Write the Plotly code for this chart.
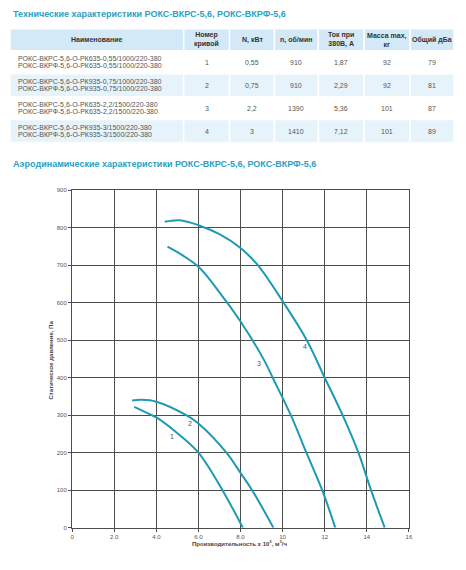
import plotly.graph_objects as go

# table data
names_vkrs = [
    "РОКС-ВКРС-5,6-О-РК635-0,55/1000/220-380",
    "РОКС-ВКРС-5,6-О-РК935-0,75/1000/220-380",
    "РОКС-ВКРС-5,6-О-РК635-2,2/1500/220-380",
    "РОКС-ВКРС-5,6-О-РК935-3/1500/220-380",
]
names_vkrf = [
    "РОКС-ВКРФ-5,6-О-РК635-0,55/1000/220-380",
    "РОКС-ВКРФ-5,6-О-РК935-0,75/1000/220-380",
    "РОКС-ВКРФ-5,6-О-РК635-2,2/1500/220-380",
    "РОКС-ВКРФ-5,6-О-РК935-3/1500/220-380",
]
curve_no = ["1", "2", "3", "4"]
power_kw = ["0,55", "0,75", "2,2", "3"]
rpm = ["910", "910", "1390", "1410"]
current_a = ["1,87", "2,29", "5,36", "7,12"]
mass_kg = ["92", "92", "101", "101"]
noise_dba = ["79", "81", "87", "89"]
headers = ["Наименование", "Номер<br>кривой", "N, кВт", "n, об/мин",
           "Ток при<br>380В, А", "Масса max,<br>кг", "Общий дБа"]

# curve data: flow x 10^3 m3/h, static pressure Pa
q1 = [2.95, 3.78, 4.0, 5.0, 6.0, 7.14, 8.11]
p1 = [322, 300, 294, 252, 200, 100, 0]
q2 = [2.85, 3.3, 4.0, 5.42, 6.0, 7.33, 8.0, 8.55, 9.56]
p2 = [339, 341, 336, 300, 278, 200, 146, 100, 0]
q3 = [4.53, 5.0, 6.0, 7.0, 8.0, 9.1, 9.53, 10.39, 11.13, 11.88, 12.5]
p3 = [750, 735, 696, 628, 550, 449, 400, 300, 200, 100, 0]
q4 = [4.4, 5.1, 6.0, 7.0, 8.0, 8.83, 10.05, 11.15, 12.0, 12.85, 13.6, 14.2, 14.85]
p4 = [816, 820, 807, 783, 746, 700, 600, 500, 400, 300, 200, 100, 0]

label_q = [4.72, 5.58, 8.9, 11.08]
label_p = [243, 278, 438, 482]

xticks = [0, 2, 4, 6, 8, 10, 12, 14, 16]
xtick_text = ["0", "2.0", "4.0", "6.0", "8.0", "10", "12", "14", "16"]

# the page body has an 8px margin; keep the figure inside the window
OFF = 8
W, H = 466 - 2 * OFF, 570 - 2 * OFF


def px(x):
    return (x - OFF) / W


def py(y):
    return 1 - (y - OFF) / H


teal = "#2a9fc6"
line_col = "#1e9ab5"
grid_col = "#4d4d4d"
font_fam = "Liberation Sans, Arial"

col_widths = [178, 47, 46, 45, 47, 47, 45]
row_heights = [22, 23, 23, 23, 23]
row_fills = ["#d3e9f7", "#ffffff", "#e7f3fb", "#ffffff", "#e7f3fb"]

col_edges = [0]
for w in col_widths:
    col_edges.append(col_edges[-1] + w)
row_edges = [0]
for h in row_heights:
    row_edges.append(row_edges[-1] + h)

fig = go.Figure()

for q, p in [(q1, p1), (q2, p2), (q3, p3), (q4, p4)]:
    fig.add_trace(go.Scatter(x=q, y=p, mode="lines",
                             line=dict(color=line_col, width=2, shape="spline", smoothing=1.0),
                             showlegend=False, hoverinfo="skip"))

for i in range(4):
    fig.add_annotation(x=label_q[i], y=label_p[i], text=curve_no[i], showarrow=False,
                       font=dict(size=7, color="#555555"))

# table cells
for r in range(len(row_heights)):
    for c in range(len(col_widths)):
        fig.add_shape(type="rect", xref="x2", yref="y2",
                      x0=col_edges[c], x1=col_edges[c + 1],
                      y0=row_edges[r], y1=row_edges[r + 1],
                      fillcolor=row_fills[r], line=dict(color="white", width=1.5),
                      layer="below")

for c, h in enumerate(headers):
    fig.add_annotation(xref="x2", yref="y2", x=(col_edges[c] + col_edges[c + 1]) / 2,
                       y=(row_edges[0] + row_edges[1]) / 2, text="<b>%s</b>" % h,
                       showarrow=False, font=dict(size=7, color="#333333"))

columns = [curve_no, power_kw, rpm, current_a, mass_kg, noise_dba]
for r in range(4):
    yc = (row_edges[r + 1] + row_edges[r + 2]) / 2
    fig.add_annotation(xref="x2", yref="y2", x=col_edges[0] + 6, y=yc, yshift=3.5,
                       text=names_vkrs[r], xanchor="left", yanchor="middle", showarrow=False,
                       font=dict(size=7, color="#555555"))
    fig.add_annotation(xref="x2", yref="y2", x=col_edges[0] + 6, y=yc, yshift=-3.5,
                       text=names_vkrf[r], xanchor="left", yanchor="middle", showarrow=False,
                       font=dict(size=7, color="#555555"))
    for c, col in enumerate(columns):
        fig.add_annotation(xref="x2", yref="y2", x=(col_edges[c + 1] + col_edges[c + 2]) / 2,
                           y=yc, text=col[r], showarrow=False,
                           font=dict(size=7, color="#555555"))

fig.add_annotation(xref="paper", yref="paper", x=px(9), y=py(11), xanchor="left",
                   yanchor="middle", showarrow=False,
                   text="<b>Технические характеристики РОКС-ВКРС-5,6, РОКС-ВКРФ-5,6</b>",
                   font=dict(size=9, color=teal))
fig.add_annotation(xref="paper", yref="paper", x=px(9), y=py(163), xanchor="left",
                   yanchor="middle", showarrow=False,
                   text="<b>Аэродинамические характеристики РОКС-ВКРС-5,6, РОКС-ВКРФ-5,6</b>",
                   font=dict(size=9, color=teal))
fig.add_annotation(xref="paper", yref="paper", x=px(50), y=py(361), textangle=-90,
                   xanchor="center", yanchor="middle",
                   showarrow=False, text="<b>Статическое давление, Па</b>",
                   font=dict(size=6, color="#444444"))
fig.add_annotation(xref="paper", yref="paper", x=px(241), y=py(546),
                   xanchor="center", yanchor="middle",
                   showarrow=False,
                   text="<b>Производительность х 10<sup>3</sup>, м<sup>3</sup>/ч</b>",
                   font=dict(size=6, color="#444444"))

axis_style = dict(showgrid=True, gridcolor=grid_col, gridwidth=1.3, zeroline=False,
                  showline=True, linecolor=grid_col, linewidth=1.3, mirror=True,
                  ticks="outside", ticklen=3, tickcolor=grid_col,
                  tickfont=dict(size=6, color="#555555"))

fig.update_layout(
    width=W, height=H,
    margin=dict(l=0, r=0, t=0, b=0),
    paper_bgcolor="white", plot_bgcolor="white",
    font=dict(family=font_fam),
    xaxis=dict(domain=[px(71), px(412.3)], range=[0, 16], tickvals=xticks,
               ticktext=xtick_text, **axis_style),
    yaxis=dict(domain=[py(530.3), py(189.3)], range=[0, 900], dtick=100, **axis_style),
    xaxis2=dict(domain=[0, 1], range=[0, col_edges[-1]], visible=False,
                anchor="y2", fixedrange=True),
    yaxis2=dict(domain=[py(141), py(26)], range=[row_edges[-1], 0], visible=False,
                anchor="x2", fixedrange=True),
)

fig.write_html("out.html")
